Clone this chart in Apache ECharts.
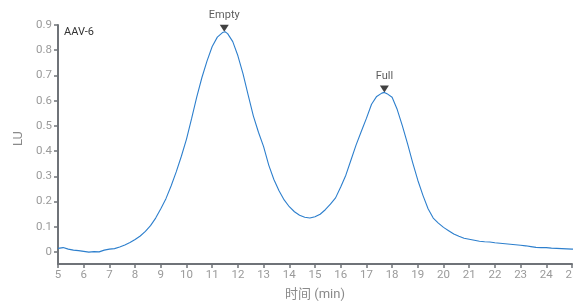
<!DOCTYPE html>
<html>
<head>
<meta charset="utf-8">
<script src="https://cdn.jsdelivr.net/npm/echarts@6/dist/echarts.min.js"></script>
<style>html,body{margin:0;padding:0;background:#fff}#c{width:573px;height:306px}</style>
</head>
<body>
<div id="c"></div>
<script>
const times = [5.0,5.2,5.4,5.6,5.8,6.0,6.2,6.4,6.6,6.8,7.0,7.2,7.4,7.6,7.8,8.0,8.2,8.4,8.6,8.8,
  9.0,9.2,9.4,9.6,9.8,10.0,10.2,10.4,10.6,10.8,11.0,11.2,11.4,11.5,11.6,11.8,12.0,12.2,12.4,12.6,12.8,
  13.0,13.2,13.4,13.6,13.8,14.0,14.2,14.4,14.6,14.8,15.0,15.2,15.4,15.6,15.8,16.0,16.2,16.4,16.6,16.8,
  17.0,17.2,17.4,17.6,17.7,17.8,18.0,18.2,18.4,18.6,18.8,19.0,19.2,19.4,19.6,19.8,20.0,20.2,20.4,20.6,20.8,
  21.0,21.2,21.4,21.6,21.8,22.0,22.2,22.4,22.6,22.8,23.0,23.2,23.4,23.6,23.8,24.0,24.2,24.4,24.6,24.8,25.0,25.2];
const lu = [0.015,0.018,0.012,0.008,0.006,0.003,0.000,0.002,0.001,0.008,0.012,0.014,0.020,0.028,0.038,0.050,0.064,0.082,0.105,0.135,
  0.172,0.212,0.262,0.318,0.380,0.448,0.530,0.615,0.692,0.758,0.815,0.852,0.870,0.873,0.866,0.834,0.778,0.706,0.622,0.540,0.475,
  0.418,0.345,0.288,0.243,0.207,0.180,0.160,0.146,0.138,0.135,0.140,0.150,0.168,0.190,0.215,0.258,0.305,0.365,0.425,0.478,
  0.530,0.586,0.617,0.630,0.633,0.628,0.614,0.565,0.500,0.430,0.355,0.285,0.225,0.172,0.135,0.115,0.098,0.085,0.072,0.063,0.055,
  0.051,0.047,0.043,0.041,0.040,0.037,0.035,0.033,0.031,0.029,0.027,0.025,0.022,0.019,0.018,0.018,0.016,0.015,0.014,0.013,0.012,0.012];
const peakNames = ['Empty','Full'];
const peakTimes = [11.47, 17.7];
const peakValues = [0.873, 0.633];
const xTicks = {min:5, max:25, step:1};
const yTicks = {min:0, max:0.9, step:0.1};
const sampleName = 'AAV-6';
const xName = '时间 (min)';
const yName = 'LU';

const font = 'Roboto, "Noto Sans CJK SC", sans-serif';
const axisColor = '#6f7378';
const labelColor = '#9a9a9a';
const chart = echarts.init(document.getElementById('c'), null, {renderer:'canvas'});
chart.setOption({
  animation:false,
  textStyle:{fontFamily:font},
  title:{text:sampleName,left:64,top:27,padding:0,textStyle:{fontSize:11,fontWeight:'normal',color:'#333',fontFamily:font}},
  grid:[
    {left:58,right:1,top:25,bottom:42,containLabel:false,outerBoundsMode:'none'},
    {left:58,right:1,top:25,bottom:54,containLabel:false,outerBoundsMode:'none'}
  ],
  xAxis:[
    {type:'value',gridIndex:0,min:xTicks.min,max:xTicks.max,interval:xTicks.step,
     name:xName,nameLocation:'middle',nameGap:24,
     nameTextStyle:{fontSize:13,color:'#8a8a8a',fontFamily:font},
     axisLine:{show:true,onZero:false,lineStyle:{color:axisColor,width:2}},
     axisTick:{show:true,length:4,lineStyle:{color:axisColor,width:1.5}},
     axisLabel:{fontSize:11.5,color:labelColor,margin:5,fontFamily:font,hideOverlap:false},
     splitLine:{show:false}},
    {type:'value',gridIndex:1,min:xTicks.min,max:xTicks.max,show:false}
  ],
  yAxis:[
    {type:'value',gridIndex:0,min:-0.047,max:0.9,
     axisLine:{show:true,lineStyle:{color:axisColor,width:2}},
     axisTick:{show:false},axisLabel:{show:false},splitLine:{show:false}},
    {type:'value',gridIndex:1,min:yTicks.min,max:yTicks.max,interval:yTicks.step,
     name:yName,nameLocation:'middle',nameGap:32,nameRotate:90,
     nameTextStyle:{fontSize:13,color:'#8a8a8a',fontFamily:font},
     axisLine:{show:false},
     axisTick:{show:true,length:4,lineStyle:{color:axisColor,width:1.5}},
     axisLabel:{fontSize:11.5,color:labelColor,margin:6,fontFamily:font,
       formatter:v=>Math.round(v*10)/10+''},
     splitLine:{show:false}}
  ],
  series:[
    {type:'line',xAxisIndex:0,yAxisIndex:0,data:times.map((t,i)=>[t,lu[i]]),
     showSymbol:false,symbol:'none',clip:true,lineStyle:{color:'#2d7fcd',width:1.1},smooth:false},
    {type:'scatter',xAxisIndex:0,yAxisIndex:0,
     data:peakTimes.map((t,i)=>({value:[t,peakValues[i]],name:peakNames[i]})),
     symbol:'triangle',symbolRotate:180,symbolSize:[9,7],symbolOffset:[0,-3.5],
     itemStyle:{color:'#111'},
     label:{show:true,position:'top',distance:4,formatter:p=>p.name,fontSize:11,color:'#333',fontFamily:font}}
  ]
});
</script>
</body>
</html>
